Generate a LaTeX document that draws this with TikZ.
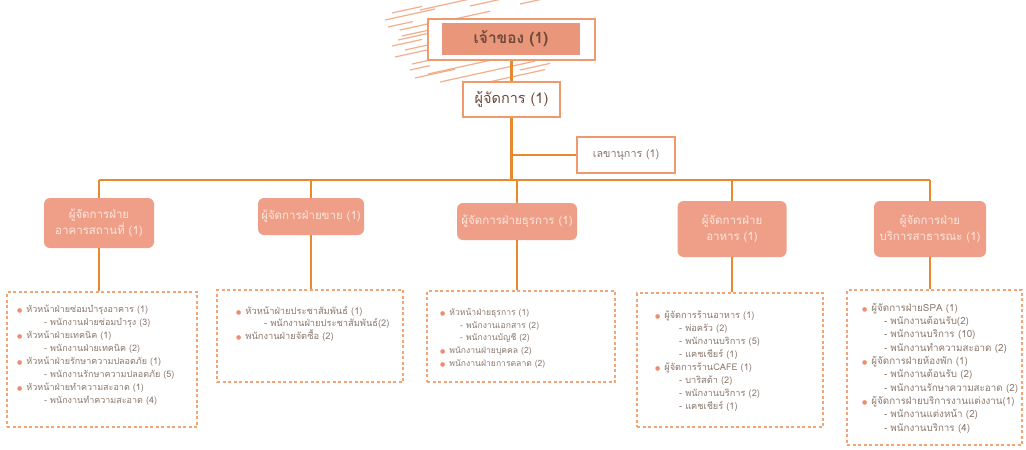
\documentclass[tikz,border=0pt]{standalone}
\usepackage{fontspec}
\setmainfont[Script=Thai]{Loma}
\newfontfamily\dejavu{DejaVu Sans}
\definecolor{connc}{HTML}{E8892E}
\definecolor{framec}{HTML}{EE9A6C}
\definecolor{ownerf}{HTML}{E9967A}
\definecolor{lfill}{HTML}{EF9F88}
\definecolor{ltext}{HTML}{FCE6DC}
\definecolor{dashc}{HTML}{F2A676}
\definecolor{listc}{HTML}{8A786C}
\definecolor{topc}{HTML}{6E4A3A}
\definecolor{bulc}{HTML}{EE8C6C}
\definecolor{hatchc}{HTML}{F2A078}
\newcommand{\bul}{{\color{bulc}\dejavu\fontsize{6}{6}\selectfont ●}\hspace{4pt}}
\newcommand{\sub}[1]{\hspace*{#1}-\hspace{3pt}}
\tikzset{
  conn/.style={draw=connc, line width=2.4pt},
  frame/.style={draw=framec, line width=2.6pt, fill=white, inner sep=0pt},
  lvl/.style={fill=lfill, rounded corners=6pt, text=ltext, align=center,
              font=\fontsize{11.5}{16}\selectfont, inner sep=0pt},
  dbox/.style={draw=dashc, line width=1.4pt, dash pattern=on 3pt off 2.5pt, inner sep=0pt},
  list/.style={anchor=north west, align=left, inner sep=0pt, text=listc},
  hatch/.style={draw=hatchc, line width=1.2pt, opacity=0.85}
}
\begin{document}
\begin{tikzpicture}[x=1pt,y=-1pt]
\useasboundingbox (0,0) rectangle (1026,450);
\fill[white] (0,0) rectangle (1026,450);
% decorative hatching
\foreach \xa/\ya/\l in {385/20/50, 392/13/30, 420/10/60, 470/6/45, 520/4/40, 400/30/45,
   398/40/40, 405/50/30, 395/57/35, 412/64/25, 428/74/95, 440/82/95, 475/85/70, 392/46/30,
   520/70/30, 410/70/20, 388/27/25, 402/36/30, 450/20/40, 415/78/40}{
  \draw[hatch] (\xa,\ya) -- ++(\l,-0.22*\l);
}
% top level
\node[frame, minimum width=167pt, minimum height=41pt] (ownerframe) at (511.5,39.5) {};
\node[fill=ownerf, minimum width=138pt, minimum height=32pt, inner sep=0pt, text=topc,
      font=\bfseries\fontsize{15.5}{16}\selectfont] (owner) at (511,39) {เจ้าของ (1)};
\node[frame, minimum width=97pt, minimum height=35pt, text=topc,
      font=\fontsize{14.5}{15}\selectfont] (mgr) at (511.5,99.5) {ผู้จัดการ (1)};
\node[frame, minimum width=98pt, minimum height=36pt, text=listc,
      font=\fontsize{10.8}{11}\selectfont] (sec) at (626,155) {เลขานุการ (1)};
\coordinate (bus) at (0,180);
% level 2
\node[lvl, minimum width=110pt, minimum height=50pt] (L1) at (99,223) {ผู้จัดการฝ่าย\\อาคารสถานที่ (1)};
\node[lvl, minimum width=106pt, minimum height=37pt] (L2) at (311,216.5) {ผู้จัดการฝ่ายขาย (1)};
\node[lvl, minimum width=120pt, minimum height=37pt] (L3) at (517,221.5) {ผู้จัดการฝ่ายธุรการ (1)};
\node[lvl, minimum width=109pt, minimum height=56pt] (L4) at (732,229) {ผู้จัดการฝ่าย\\อาหาร (1)};
\node[lvl, minimum width=112pt, minimum height=56pt] (L5) at (930,229) {ผู้จัดการฝ่าย\\บริการสาธารณะ (1)};
% dashed boxes
\node[dbox, minimum width=190pt, minimum height=135pt] (D1) at (102,359.5) {};
\node[dbox, minimum width=186pt, minimum height=92pt] (D2) at (310,336) {};
\node[dbox, minimum width=188pt, minimum height=91pt] (D3) at (521,336.5) {};
\node[dbox, minimum width=186pt, minimum height=134pt] (D4) at (730,360) {};
\node[dbox, minimum width=175pt, minimum height=155pt] (D5) at (934.5,367.5) {};
% connectors
\draw[conn] (ownerframe.south) -- (mgr.north);
\draw[conn] (mgr.south) -- (mgr.south |- bus);
\draw[conn] (mgr.south |- sec.west) -- (sec.west);
\draw[conn] (L1.north |- bus) -- (L5.north |- bus);
\foreach \n in {1,...,5}{
  \draw[conn] (L\n.north) -- (L\n.north |- bus);
  \draw[conn] (L\n.south) -- (L\n.south |- D\n.north);
}
% lists
\node[list, font=\fontsize{9}{13}\selectfont] (T1) at (17,305) {%
\bul หัวหน้าฝ่ายซ่อมบำรุงอาคาร (1)\\
\sub{27pt}พนักงานฝ่ายซ่อมบำรุง (3)\\
\bul หัวหน้าฝ่ายเทคนิค (1)\\
\sub{27pt}พนักงานฝ่ายเทคนิค (2)\\
\bul หัวหน้าฝ่ายรักษาความปลอดภัย (1)\\
\sub{27pt}พนักงานรักษาความปลอดภัย (5)\\
\bul หัวหน้าฝ่ายทำความสะอาด (1)\\
\sub{27pt}พนักงานทำความสะอาด (4)};
\node[list, font=\fontsize{9.3}{12.5}\selectfont] (T2) at (236,306) {%
\bul หัวหน้าฝ่ายประชาสัมพันธ์ (1)\\
\sub{28pt}พนักงานฝ่ายประชาสัมพันธ์(2)\\
\bul พนักงานฝ่ายจัดซื้อ (2)};
\node[list, font=\fontsize{8.6}{12.8}\selectfont] (T3) at (440,308) {%
\bul หัวหน้าฝ่ายธุรการ (1)\\
\sub{20pt}พนักงานเอกสาร (2)\\
\sub{20pt}พนักงานบัญชี (2)\\
\bul พนักงานฝ่ายบุคคล (2)\\
\bul พนักงานฝ่ายการตลาด (2)};
\node[list, font=\fontsize{9.2}{12.9}\selectfont] (T4) at (655,311) {%
\bul ผู้จัดการร้านอาหาร (1)\\
\sub{24pt}พ่อครัว (2)\\
\sub{24pt}พนักงานบริการ (5)\\
\sub{24pt}แคชเชียร์ (1)\\
\bul ผู้จัดการร้านCAFE (1)\\
\sub{24pt}บาริสต้า (2)\\
\sub{24pt}พนักงานบริการ (2)\\
\sub{24pt}แคชเชียร์ (1)};
\node[list, font=\fontsize{9.8}{13.3}\selectfont] (T5) at (862,303) {%
\bul ผู้จัดการฝ่ายSPA (1)\\
\sub{22pt}พนักงานต้อนรับ(2)\\
\sub{22pt}พนักงานบริการ (10)\\
\sub{22pt}พนักงานทำความสะอาด (2)\\
\bul ผู้จัดการฝ่ายห้องพัก (1)\\
\sub{22pt}พนักงานต้อนรับ (2)\\
\sub{22pt}พนักงานรักษาความสะอาด (2)\\
\bul ผู้จัดการฝ่ายบริการงานแต่งงาน(1)\\
\sub{22pt}พนักงานแต่งหน้า (2)\\
\sub{22pt}พนักงานบริการ (4)};
\end{tikzpicture}
\end{document}
